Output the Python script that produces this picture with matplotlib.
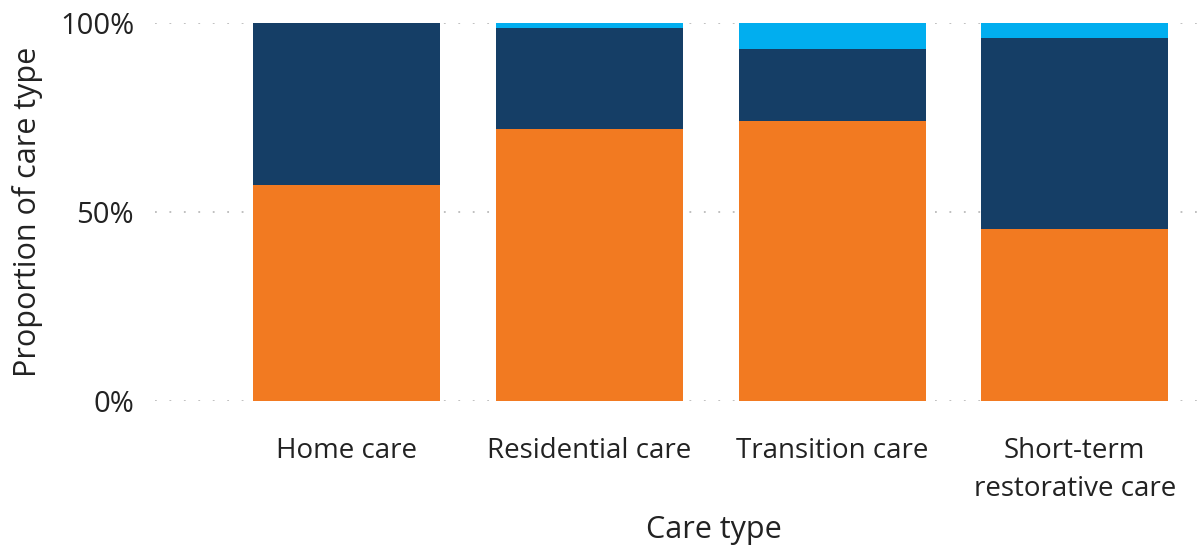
import matplotlib
matplotlib.use("Agg")
import matplotlib.pyplot as plt
from matplotlib.ticker import FixedLocator

categories = ["Home care", "Residential care", "Transition care", "Short-term\nrestorative care"]
series_orange = [57.1, 72.0, 74.1, 45.5]
series_dark = [42.9, 26.7, 19.1, 50.4]
series_light = [0.0, 1.3, 6.8, 4.1]
colors = ["#F27A21", "#153E66", "#01AEEF"]
yticks = [0, 50, 100]
ytick_labels = ["0%", "50%", "100%"]

plt.rcParams['font.family'] = ['Open Sans', 'DejaVu Sans']

fig = plt.figure(figsize=(12.01, 5.45), dpi=100)
ax = fig.add_axes([0.129, 0.264, 0.871, 0.694])

x = list(range(len(categories)))
bottom = [0.0] * len(categories)
for vals, c in zip([series_orange, series_dark, series_light], colors):
    ax.bar(x, vals, width=0.77, bottom=bottom, color=c, edgecolor='none', zorder=2)
    bottom = [b + v for b, v in zip(bottom, vals)]

ax.set_xlim(-0.79, 3.52)
ax.set_ylim(0, 100)
ax.yaxis.set_major_locator(FixedLocator(yticks))
ax.set_yticklabels(ytick_labels, fontsize=21)
ax.set_xticks(x)
ax.set_xticklabels(categories, linespacing=1.45, fontsize=20)
ax.grid(axis='y', color='#BBBBBB', linestyle=(0, (1, 7)), linewidth=1.3, zorder=0)
for s in ax.spines.values():
    s.set_visible(False)
ax.tick_params(axis='both', length=0, colors='#222222')
ax.tick_params(axis='x', pad=26)
ax.tick_params(axis='y', pad=15)
ax.set_ylabel("Proportion of care type", fontsize=22, color='#222222')
ax.set_xlabel("Care type", fontsize=22, color='#222222')
ax.yaxis.set_label_coords(-0.107, 0.5)
ax.xaxis.set_label_coords(0.534, -0.30)

fig.savefig("out.png", dpi=100)
